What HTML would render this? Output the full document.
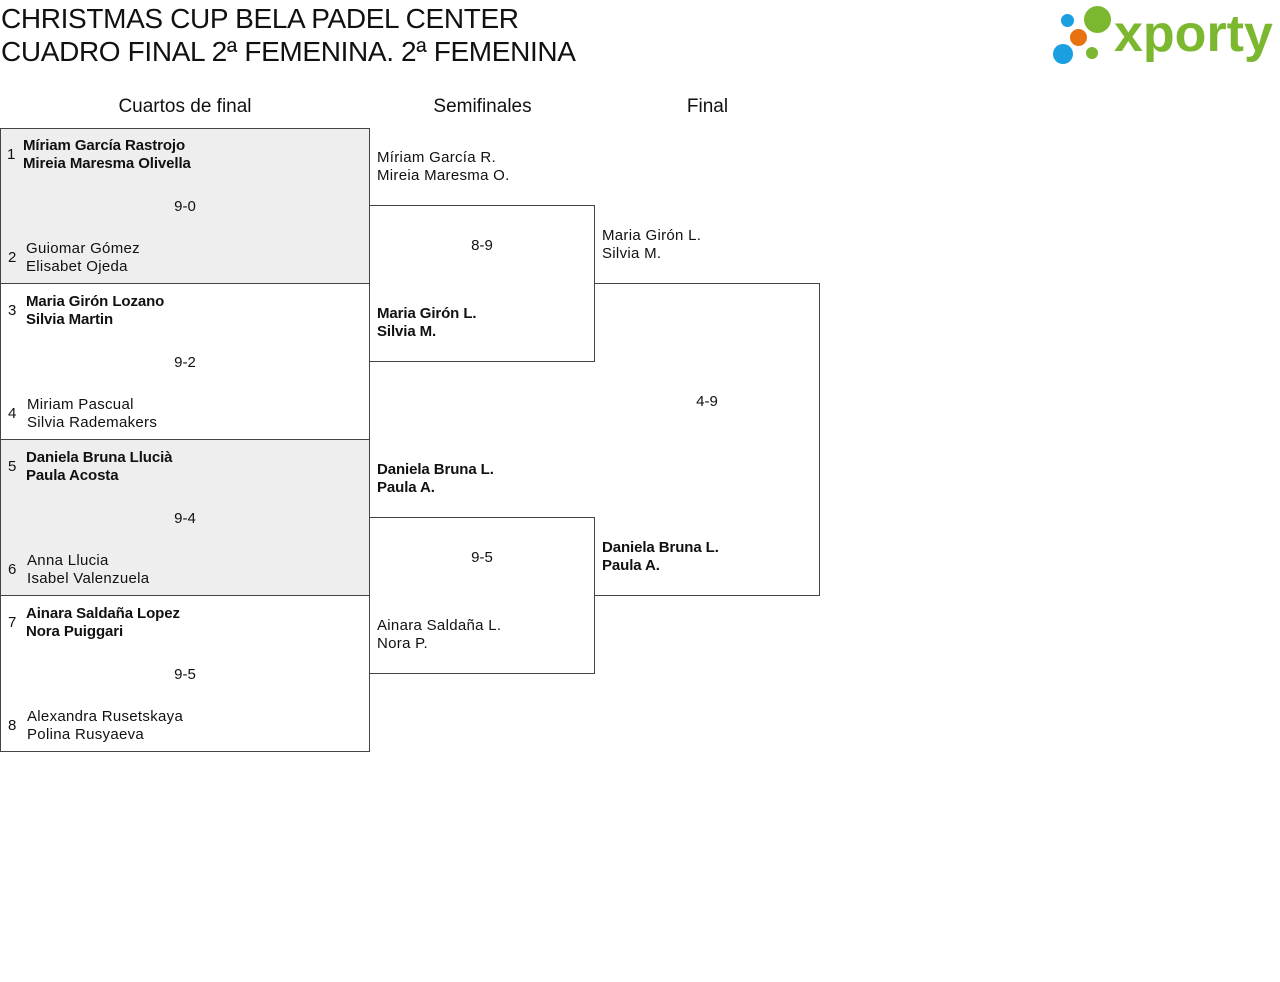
<!DOCTYPE html>
<html><head><meta charset="utf-8"><style>
*{margin:0;padding:0;box-sizing:border-box}
body{width:1280px;height:982px;background:#fff;position:relative;font-family:"Liberation Sans",sans-serif;color:#111;overflow:hidden}
.a{position:absolute}
.box{position:absolute;border:1px solid #444}
.g{background:#eee}
.t{position:absolute;font-size:15px;line-height:18px;white-space:nowrap;letter-spacing:0.3px;margin-top:1px}
.b{font-weight:bold;letter-spacing:-0.1px}
.n{position:absolute;font-size:15px;margin-top:1px}
.s{position:absolute;font-size:15px;text-align:center;margin-top:1px}
.h{position:absolute;font-size:19px;text-align:center;margin-top:1px}
.dot{position:absolute;border-radius:50%}
</style></head><body>
<div class="a" style="left:1px;top:2px;font-size:28px;line-height:33px;letter-spacing:-0.35px">CHRISTMAS CUP BELA PADEL CENTER<br>CUADRO FINAL 2ª FEMENINA. 2ª FEMENINA</div>

<div class="dot" style="left:1061px;top:14px;width:13px;height:13px;background:#1a9fe0"></div>
<div class="dot" style="left:1084px;top:6px;width:27px;height:27px;background:#7cb82f"></div>
<div class="dot" style="left:1070px;top:29px;width:17px;height:17px;background:#e8720f"></div>
<div class="dot" style="left:1053px;top:44px;width:20px;height:20px;background:#1a9fe0"></div>
<div class="dot" style="left:1086px;top:47px;width:12px;height:12px;background:#7cb82f"></div>
<div class="a" style="left:1114px;top:4px;font-size:52px;font-weight:bold;color:#7cb82f;letter-spacing:0px;line-height:60px">xporty</div>

<div class="h" style="left:0;width:370px;top:95px">Cuartos de final</div>
<div class="h" style="left:370px;width:225px;top:95px">Semifinales</div>
<div class="h" style="left:595px;width:225px;top:95px">Final</div>

<div class="box g" style="left:0;top:128px;width:370px;height:156px"></div>
<div class="box" style="left:0;top:283px;width:370px;height:157px"></div>
<div class="box g" style="left:0;top:439px;width:370px;height:157px"></div>
<div class="box" style="left:0;top:595px;width:370px;height:157px"></div>
<div class="box" style="left:594px;top:283px;width:226px;height:313px;border-left:none"></div>
<div class="box" style="left:369px;top:205px;width:226px;height:157px"></div>
<div class="box" style="left:369px;top:517px;width:226px;height:157px"></div>

<div class="n" style="left:7px;top:145px">1</div>
<div class="t b" style="left:23px;top:136px">Míriam García Rastrojo<br>Mireia Maresma Olivella</div>
<div class="s" style="left:0;width:370px;top:197px">9-0</div>
<div class="n" style="left:8px;top:248px">2</div>
<div class="t" style="left:26px;top:239px">Guiomar Gómez<br>Elisabet Ojeda</div>

<div class="n" style="left:8px;top:301px">3</div>
<div class="t b" style="left:26px;top:292px">Maria Girón Lozano<br>Silvia Martin</div>
<div class="s" style="left:0;width:370px;top:353px">9-2</div>
<div class="n" style="left:8px;top:404px">4</div>
<div class="t" style="left:27px;top:395px">Miriam Pascual<br>Silvia Rademakers</div>

<div class="n" style="left:8px;top:457px">5</div>
<div class="t b" style="left:26px;top:448px">Daniela Bruna Llucià<br>Paula Acosta</div>
<div class="s" style="left:0;width:370px;top:509px">9-4</div>
<div class="n" style="left:8px;top:560px">6</div>
<div class="t" style="left:27px;top:551px">Anna Llucia<br>Isabel Valenzuela</div>

<div class="n" style="left:8px;top:613px">7</div>
<div class="t b" style="left:26px;top:604px">Ainara Saldaña Lopez<br>Nora Puiggari</div>
<div class="s" style="left:0;width:370px;top:665px">9-5</div>
<div class="n" style="left:8px;top:716px">8</div>
<div class="t" style="left:27px;top:707px">Alexandra Rusetskaya<br>Polina Rusyaeva</div>

<div class="t" style="left:377px;top:148px">Míriam García R.<br>Mireia Maresma O.</div>
<div class="s" style="left:369px;width:226px;top:236px">8-9</div>
<div class="t b" style="left:377px;top:304px">Maria Girón L.<br>Silvia M.</div>
<div class="t b" style="left:377px;top:460px">Daniela Bruna L.<br>Paula A.</div>
<div class="s" style="left:369px;width:226px;top:548px">9-5</div>
<div class="t" style="left:377px;top:616px">Ainara Saldaña L.<br>Nora P.</div>

<div class="t" style="left:602px;top:226px">Maria Girón L.<br>Silvia M.</div>
<div class="s" style="left:594px;width:226px;top:392px">4-9</div>
<div class="t b" style="left:602px;top:538px">Daniela Bruna L.<br>Paula A.</div>
</body></html>
